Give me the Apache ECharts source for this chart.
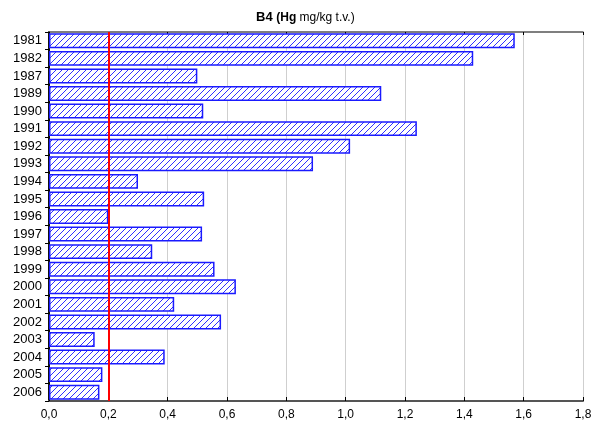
<!DOCTYPE html>
<html>
<head>
<meta charset="utf-8">
<script src="https://cdn.jsdelivr.net/npm/echarts@6/dist/echarts.min.js"></script>
<style>html,body{margin:0;padding:0;background:#fff}#c{width:598px;height:428px}</style>
</head>
<body>
<div id="c"></div>
<script>
var years = ['1981','1982','1987','1989','1990','1991','1992','1993','1994','1995','1996','1997','1998','1999','2000','2001','2002','2003','2004','2005','2006'];
var hgValues = [1.57,1.43,0.50,1.12,0.52,1.24,1.015,0.89,0.30,0.523,0.20,0.516,0.348,0.558,0.63,0.422,0.58,0.154,0.39,0.18,0.17];
var xTicks = [0,0.2,0.4,0.6,0.8,1.0,1.2,1.4,1.6,1.8];
var limitValue = 0.2;

var pc = document.createElement('canvas');
pc.width = 6; pc.height = 6;
var g = pc.getContext('2d');
g.fillStyle = '#ffffff';
g.fillRect(0,0,6,6);
g.strokeStyle = '#3030ff';
g.lineWidth = 1;
g.beginPath();
g.moveTo(0,6); g.lineTo(6,0);
g.moveTo(-1,1); g.lineTo(1,-1);
g.moveTo(5,7); g.lineTo(7,5);
g.stroke();

var font = 'Liberation Sans, Arial, sans-serif';
var chart = echarts.init(document.getElementById('c'));
chart.setOption({
  animation: false,
  title: {
    text: '{b|B4 }{h|(Hg }{n|mg/kg t.v.)}',
    left: 251, top: 6,
    textStyle: {
      fontFamily: font, fontWeight: 'normal',
      rich: {
        b: {fontWeight: 'bold', fontSize: 13, color: '#000', fontFamily: font},
        h: {fontWeight: 'bold', fontSize: 12, color: '#000', fontFamily: font},
        n: {fontWeight: 'normal', fontSize: 12, color: '#000', fontFamily: font}
      }
    }
  },
  grid: {left: 49, right: 15, top: 32, bottom: 27},
  xAxis: [{
    type: 'value', min: 0, max: 1.8, interval: 0.2, position: 'bottom',
    axisLine: {show: true, lineStyle: {color: '#555', width: 2}},
    axisTick: {show: true, inside: true, length: 4, lineStyle: {color: '#000'}},
    axisLabel: {color: '#000', fontSize: 12, fontFamily: font, margin: 8,
      formatter: function (v) { return v.toFixed(1).replace('.', ','); }},
    splitLine: {show: true, lineStyle: {color: '#cfcfcf', width: 1}}
  }, {
    type: 'value', min: 0, max: 1.8, interval: 0.2, position: 'top',
    axisLine: {show: true, lineStyle: {color: '#555', width: 1.5}},
    axisTick: {show: true, inside: true, length: 3, lineStyle: {color: '#000'}},
    axisLabel: {show: false},
    splitLine: {show: false}
  }],
  yAxis: [{
    type: 'category', data: years, inverse: true, position: 'left',
    axisLine: {show: true, lineStyle: {color: '#000', width: 1.5}},
    axisTick: {show: false},
    axisLabel: {color: '#000', fontSize: 13, fontFamily: font, margin: 7}
  }, {
    type: 'category', data: years, inverse: true, position: 'right',
    axisLine: {show: true, lineStyle: {color: '#000', width: 1.5}},
    axisTick: {show: true, inside: true, length: 4, lineStyle: {color: '#000'}},
    axisLabel: {show: false}
  }],
  series: [{
    type: 'bar', xAxisIndex: 0, yAxisIndex: 0,
    data: hgValues,
    barCategoryGap: '15%',
    itemStyle: {color: {image: pc, repeat: 'repeat'}, borderColor: '#1a1aff', borderWidth: 1.5},
    markLine: {
      silent: true, symbol: 'none', animation: false,
      label: {show: false},
      lineStyle: {color: '#ff0000', width: 2, type: 'solid'},
      data: [{xAxis: limitValue}]
    }
  }]
});
</script>
</body>
</html>
